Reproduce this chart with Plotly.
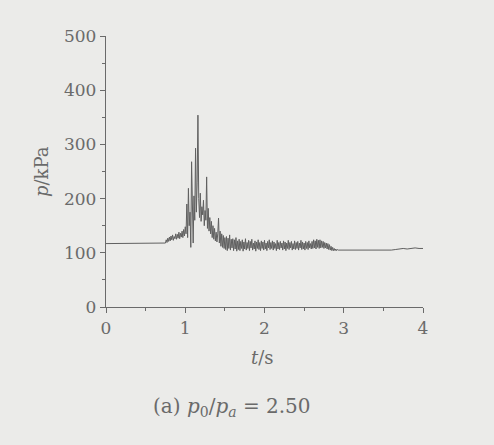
import numpy as np
import plotly.graph_objects as go

# ---- data ----
base_t = [0.0, 0.74]
base_p = [117, 117]

# dense record, 0.01 s sampling from 0.75 s to 2.94 s
dense_t0 = 0.75
dense_dt = 0.01
dense_p = [
    118, 124, 119, 127, 121,
    129, 122, 131, 124, 133, 123, 130, 126, 135, 125,
    134, 127, 138, 126, 136, 129, 140, 128, 143, 131,
    148, 135, 190, 128, 219, 150, 175, 110, 268, 140,
    118, 205, 160, 293, 175, 229, 354, 200, 165, 210,
    158, 185, 170, 197, 150, 178, 160, 240, 145, 182,
    140, 165, 135, 158, 128, 150, 125, 145, 122, 138,
    120, 135, 164, 118, 140, 112, 135, 110, 132, 108,
    128, 106, 130, 104, 127, 108, 133, 105, 125, 109,
    126, 104, 124, 107, 128, 103, 122, 106, 125, 104,
    121, 108, 124, 103, 120, 107, 126, 105, 119, 108,
    123, 104, 121, 109, 125, 105, 118, 107, 122, 103,
    120, 108, 124, 106, 119, 104, 122, 108, 120, 105,
    123, 107, 118, 104, 121, 109, 124, 106, 119, 108,
    122, 105, 120, 108, 117, 104, 123, 107, 119, 106,
    121, 109, 118, 105, 122, 107, 120, 104, 118, 108,
    123, 106, 119, 109, 121, 105, 117, 107, 122, 106,
    119, 108, 121, 105, 118, 109, 123, 106, 120, 107,
    118, 105, 121, 108, 119, 106, 122, 109, 117, 107,
    121, 108, 124, 109, 122, 107, 125, 110, 123, 108,
    124, 109, 122, 110, 121, 108, 119, 109, 118, 107,
    117, 106, 115, 105, 112, 104, 110, 104, 108, 104,
    107, 104, 106, 105, 105,
]

# tail, 0.05 s sampling from 2.95 s to 4.00 s
tail_t0 = 2.95
tail_dt = 0.05
tail_p = [105, 105, 104, 105, 105, 104, 105, 105, 104, 104, 104,
          104, 105, 105, 106, 107, 108, 107, 108, 109, 108, 108]

x_ticks = [0, 1, 2, 3, 4]
y_ticks = [0, 100, 200, 300, 400, 500]

# ---- build ----
dense_t = [round(dense_t0 + i * dense_dt, 4) for i in range(len(dense_p))]
tail_t = [round(tail_t0 + i * tail_dt, 4) for i in range(len(tail_p))]
t = base_t + dense_t + tail_t
p = base_p + dense_p + tail_p

BG = "#ebebe9"
INK = "#6a6a6a"
FONT = "DejaVu Serif"

fig = go.Figure()
fig.add_trace(go.Scatter(x=t, y=p, mode="lines",
                         line=dict(color="#606060", width=1), hoverinfo="skip"))

axis_common = dict(showgrid=False, zeroline=False, showline=True, linecolor=INK,
                   linewidth=1.3, ticks="outside", ticklen=5, tickwidth=1.2,
                   tickcolor=INK, tickfont=dict(family=FONT, size=17, color=INK))

fig.update_xaxes(range=[0, 4], tickvals=x_ticks, ticklabelstandoff=0,
                 minor=dict(dtick=0.5, ticklen=3, ticks="outside", tickcolor=INK, tickwidth=1),
                 **axis_common)
fig.update_yaxes(range=[0, 500], tickvals=y_ticks, ticklabelstandoff=0,
                 minor=dict(dtick=50, ticklen=3, ticks="outside", tickcolor=INK, tickwidth=1),
                 **axis_common)

ann = dict(xref="paper", yref="paper", showarrow=False, xanchor="center", yanchor="middle")
fig.add_annotation(text="<i>p</i>/kPa", x=-0.205, y=0.498, textangle=-90,
                   font=dict(family=FONT, size=18, color=INK), **ann)
fig.add_annotation(text="<i>t</i>/s", x=0.495, y=-0.188,
                   font=dict(family=FONT, size=18, color=INK), **ann)
fig.add_annotation(text="(a) <i>p</i><sub>0</sub>/<i>p</i><sub><i>a</i></sub> = 2.50",
                   x=0.397, y=-0.369, font=dict(family=FONT, size=20, color=INK), **ann)

fig.update_layout(width=494, height=445, margin=dict(l=106, r=71, t=36, b=138),
                  paper_bgcolor=BG, plot_bgcolor=BG, showlegend=False)

fig.write_html("out.html")
